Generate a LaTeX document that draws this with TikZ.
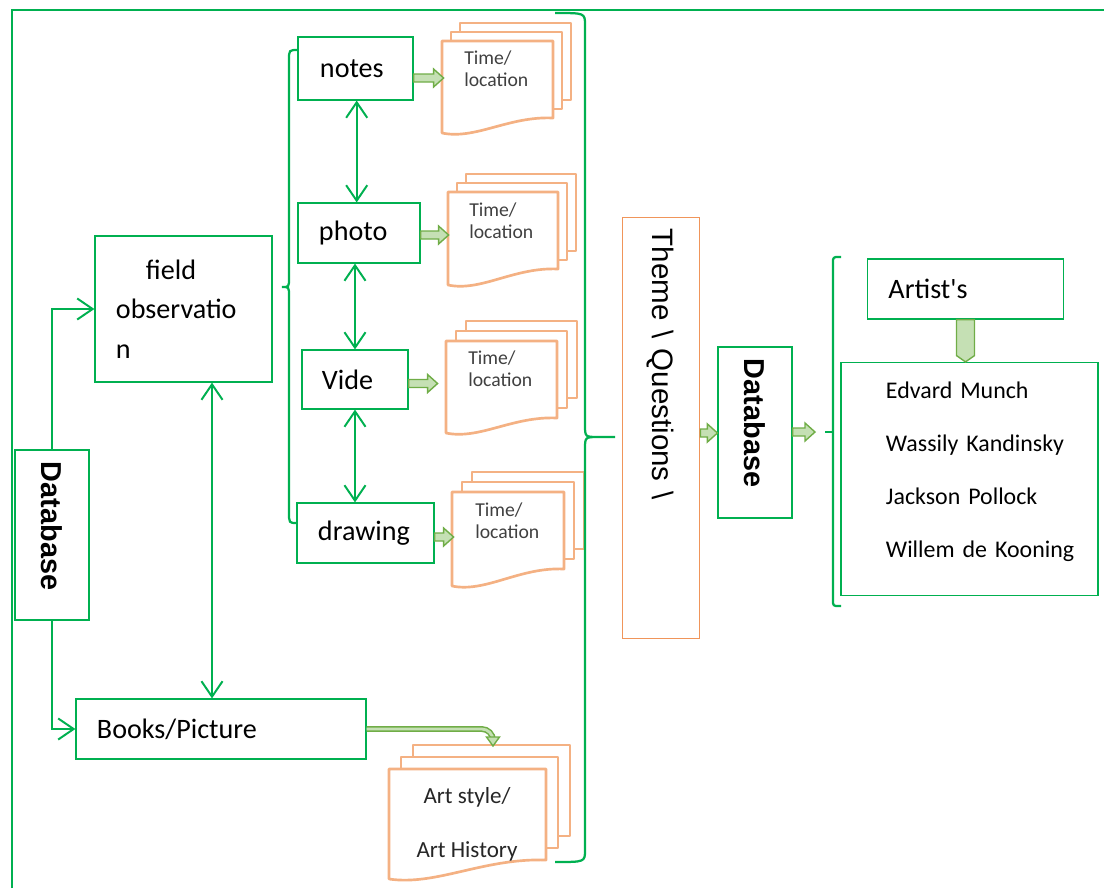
\documentclass[tikz,border=0pt]{standalone}
\usepackage{fontspec}
\setmainfont{Carlito}
\newfontfamily\arialfont{Liberation Sans}
\usetikzlibrary{arrows.meta,calc,positioning}

\definecolor{linegreen}{HTML}{00B050}
\definecolor{arrowgreen}{HTML}{70AD47}
\definecolor{arrowfill}{HTML}{C5E0B4}
\definecolor{pageorange}{HTML}{F4B183}
\definecolor{themeorange}{HTML}{F0955A}
\newcommand{\dbfont}{\arialfont\bfseries\fontsize{20.5}{24}\selectfont}
\newcommand{\themefont}{\arialfont\fontsize{21}{25}\selectfont}

% stack of three sheets: left, top, width, height, dip, offset of the front sheet
\newcommand{\docstack}[6]{
  \draw[page] (#1+2*#6,#2-2*#6) rectangle (#1+#3+2*#6,#2+#4-2*#6);
  \draw[page] (#1+#6,#2-#6) rectangle (#1+#3+#6,#2+#4-#6);
  \draw[page] (#1,#2) -- (#1+#3,#2) -- (#1+#3,#2+#4)
    .. controls (#1+0.6*#3,#2+#4-2) and (#1+0.3*#3,#2+#4+#5+7) .. (#1,#2+#4+#5) -- cycle;
}
% hollow block arrow pointing right
\newcommand{\fatarrow}[2]{
  \draw[fat] ($(#1)+(0,-4)$) -- ($(#2)+(-10,-4)$) -- ($(#2)+(-10,-9)$) -- (#2)
    -- ($(#2)+(-10,9)$) -- ($(#2)+(-10,4)$) -- ($(#1)+(0,4)$) -- cycle;
}

\tikzset{
  box/.style={draw=linegreen, line width=0.8pt, inner sep=0pt, font=\fontsize{20}{24}\selectfont},
  frame/.style={draw=linegreen, line width=1.4pt},
  link/.style={draw=linegreen, line width=1.4pt, -{Straight Barb[length=11pt,width=15pt]}},
  twoway/.style={link, {Straight Barb[length=11pt,width=15pt]}-{Straight Barb[length=11pt,width=15pt]}},
  brace/.style={draw=linegreen, line width=1.6pt},
  page/.style={draw=pageorange, line width=1.9pt, fill=white, line join=round},
  fat/.style={draw=arrowgreen, line width=1pt, fill=arrowfill},
  thinfat/.style={draw=arrowgreen, line width=1.1pt, double=arrowfill, double distance=2pt},
  doctext/.style={anchor=north west, align=left, inner sep=0pt, text=black!75, font=\fontsize{14}{15.6}\selectfont},
}

\begin{document}
\begin{tikzpicture}[x=0.025cm, y=-0.025cm]
    \useasboundingbox (0,0) rectangle (1104,888);
    % Frame
    \draw[frame] (12,888) -- (12,10) -- (1104,10);

    % Database and its two sources
    \node[box, rotate=-90, minimum width=4.25cm, minimum height=1.85cm, text width=3.65cm, align=left, font=\dbfont] (dbleft) at (52,535) {Database};
    \node[box, minimum width=4.425cm, minimum height=3.65cm, text width=3.375cm, align=left, font=\fontsize{20}{28}\selectfont] (field) at (183.5,309) {\hspace*{0.75cm}field\\observatio\\n};
    \node[box, minimum width=7.25cm, minimum height=1.5cm, text width=6.2cm, align=left] (books) at (221,729) {Books/Picture};
    \draw[link] (dbleft.west) |- (field.west); % west is the top after rotation
    \draw[link] (dbleft.east) |- (books.west);
    \coordinate (fo) at ($(field.south)+(28.5,0)$);
    \draw[twoway] (fo) -- (fo |- books.north);

    % Observation methods
    \node[box, minimum width=2.875cm, minimum height=1.575cm, text width=1.775cm, align=left] (notes) at (355.5,68.5) {notes};
    \node[box, minimum width=3.05cm, minimum height=1.5cm, text width=2cm, align=left] (photo) at (359,233) {photo};
    \node[box, minimum width=2.65cm, minimum height=1.475cm, text width=1.65cm, align=left] (vide) at (355,379.5) {Vide};
    \node[box, minimum width=3.425cm, minimum height=1.5cm, text width=2.375cm, align=left] (drawing) at (365.5,533) {drawing};
    \coordinate (np) at ($(notes.south)+(1.2,0)$);
    \draw[twoway] (np) -- (np |- photo.north);
    \draw[twoway] (vide.north |- photo.south) -- (vide.north);
    \draw[twoway] (vide.south) -- (vide.south |- drawing.north);
    \draw[brace] (298,50) .. controls (289,50) .. (289,60) -- (289,278) .. controls (289,287) .. (282,287)
        .. controls (289,287) .. (289,296) -- (289,512) .. controls (289,523) .. (297,523);

    % Time/location sheets
    \docstack{442}{41}{111}{77}{15}{9}
    \docstack{448}{192}{110}{77}{16}{9}
    \docstack{446}{341}{111}{77}{15}{10}
    \docstack{452}{492}{112}{77}{17}{10}
    \node[doctext] (tl1) at (464,51) {Time/\\location};
    \node[doctext] (tl2) at (469,203) {Time/\\location};
    \node[doctext] (tl3) at (468,351) {Time/\\location};
    \node[doctext] (tl4) at (475,503) {Time/\\location};
    \coordinate (s1) at ($(notes.east)+(0,9.5)$);  \coordinate (e1) at ($(s1)+(30,0)$);
    \coordinate (s2) at ($(photo.east)+(0,2)$);    \coordinate (e2) at ($(s2)+(28,0)$);
    \coordinate (s3) at ($(vide.east)+(0,4)$);     \coordinate (e3) at ($(s3)+(29,0)$);
    \coordinate (s4) at ($(drawing.east)+(0,4)$);  \coordinate (e4) at ($(s4)+(19,0)$);
    \fatarrow{s1}{e1}
    \fatarrow{s2}{e2}
    \fatarrow{s3}{e3}
    \fatarrow{s4}{e4}

    % Art style sheets
    \docstack{389}{769}{157}{91}{19}{12}
    \node[font=\fontsize{16.4}{38.4}\selectfont, align=center, text=black!85, inner sep=0pt] (art) at (467,824) {Art style/\\Art History};
    \coordinate (bk) at (493,737);
    \draw[thinfat, rounded corners=8] (books.east) -- (bk |- books.east) -- (bk);
    \draw[fat] ($(bk)+(-6.5,0)$) -- ($(bk)+(6.5,0)$) -- ($(bk)+(0,9)$) -- cycle;

    % Brace round all sheets
    \draw[brace] (555,13) .. controls (585,13) .. (585,25) -- (585,425) .. controls (585,437) .. (599,437) -- (615,437)
        (599,437) .. controls (585,437) .. (585,449) -- (585,850) .. controls (585,862) .. (555,862);

    % Theme and second database
    \node[box, draw=themeorange, line width=0.7pt, rotate=-90, minimum width=10.5cm, minimum height=1.925cm, text width=9.95cm, align=left, font=\themefont] (theme) at (660.5,428) {Theme \textbackslash{} Questions \textbackslash};
    \node[box, rotate=-90, minimum width=4.275cm, minimum height=1.85cm, text width=3.675cm, align=left, font=\dbfont] (dbmid) at (755,432.5) {Database};
    \coordinate (s5) at ($(theme.north)+(1,5)$); % north is the right side after rotation
    \coordinate (e5) at (s5 -| dbmid.south);
    \fatarrow{s5}{e5}
    \coordinate (brk) at (833,432);
    \coordinate (s6) at (dbmid.north |- brk);
    \coordinate (e6) at ($(brk)+(-18,0)$);
    \fatarrow{s6}{e6}

    % Artists
    \draw[brace, rounded corners=2] (841,257) -- (833,257) -- (833,606) -- (841,606);
    \draw[brace] (brk) -- ++(-8,0);
    \node[box, minimum width=4.9cm, minimum height=1.5cm, text width=3.85cm, align=left] (artist) at (965.5,289) {Artist\textquotesingle s};
    \node[box, minimum width=6.425cm, minimum height=5.825cm, text width=4.175cm, align=left, font=\fontsize{17}{37.7}\selectfont] (names) at (969.5,479) {\mbox{Edvard Munch}\\\mbox{Wassily Kandinsky}\\\mbox{Jackson Pollock}\\\mbox{Willem de Kooning}\\[-24pt]\mbox{}};
    \draw[fat] ($(artist.south)+(-9,0)$) -- ($(artist.south)+(-9,36)$) -- (names.north -| artist.south)
        -- ($(artist.south)+(9,36)$) -- ($(artist.south)+(9,0)$) -- cycle;
\end{tikzpicture}
\end{document}
